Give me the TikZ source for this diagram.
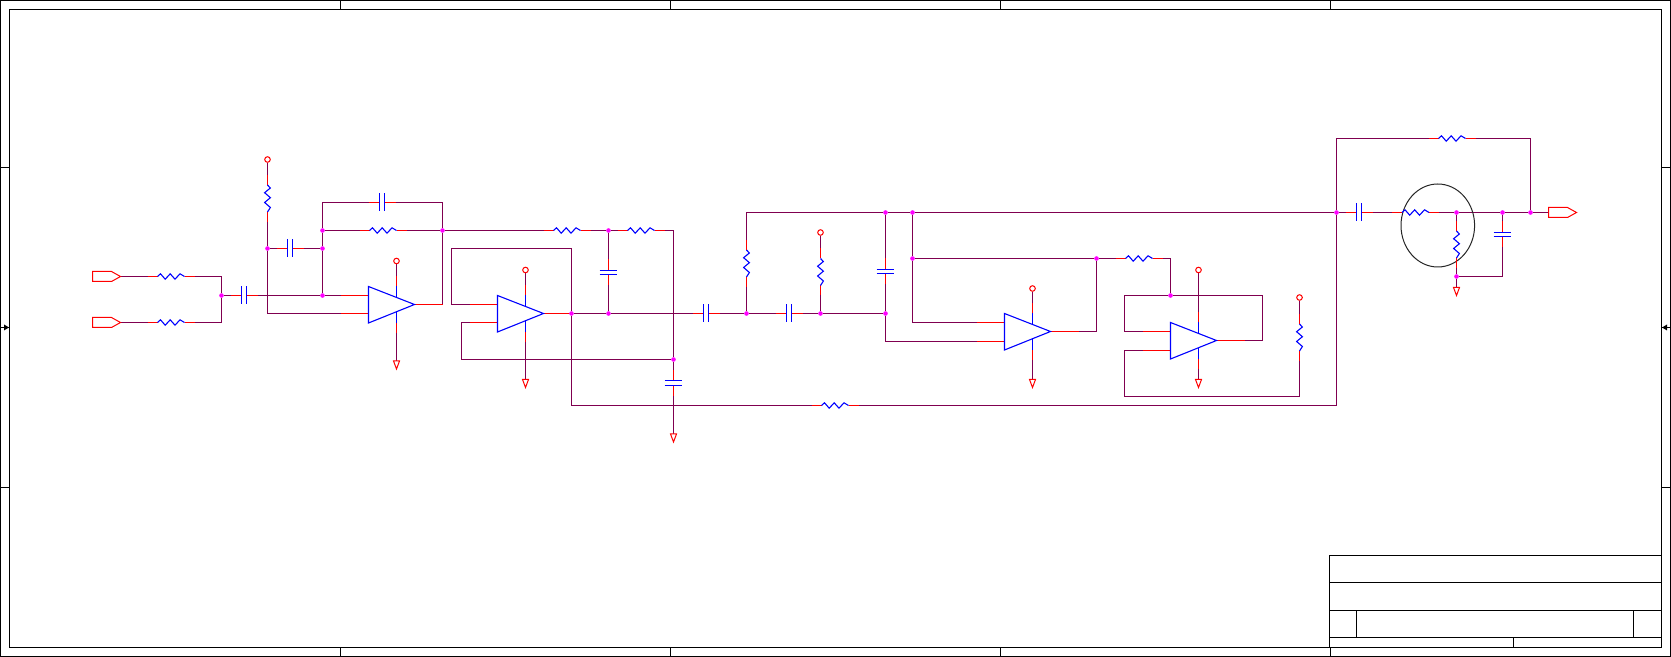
\documentclass[tikz,border=0pt]{standalone}
\usetikzlibrary{backgrounds}
\definecolor{wirec}{RGB}{128,0,80}
\definecolor{stubc}{RGB}{255,0,0}
\definecolor{compc}{RGB}{0,0,255}
\definecolor{juncc}{RGB}{255,0,255}
\tikzset{
  wire/.style={draw=wirec,line width=0.55pt},
  stubline/.style={draw=stubc,line width=0.55pt},
  comp/.style={draw=compc,line width=0.55pt,line join=miter},
  terminal/.style={draw=stubc,line width=0.5pt,fill=white},
  junc/.style={circle,fill=juncc,inner sep=0pt,minimum size=2.3pt},
  frameline/.style={draw=black,line width=0.55pt},
  ringline/.style={draw=black!85,line width=0.5pt},
}
% horizontal resistor: body from (x,y) to (x+27,y)
\newcommand\resH[3]{\begin{scope}[shift={(#2,#3)}]
  \coordinate (#1-l) at (0,0); \coordinate (#1-r) at (27,0);
  \draw[stubline] (-10,0)--(0,0) (27,0)--(37,0);
  \draw[comp] (0,0)--(3,-2.7)--(7.7,2.7)--(12.7,-2.7)--(17.5,2.7)--(22.5,-2.7)--(27,0);
\end{scope}}
% vertical resistor: body from (x,y) to (x,y+27)
\newcommand\resV[3]{\begin{scope}[shift={(#2,#3)}]
  \coordinate (#1-t) at (0,0); \coordinate (#1-b) at (0,27);
  \draw[stubline] (0,-10)--(0,0) (0,27)--(0,37);
  \draw[comp] (0,0)--(2.9,3)--(-2.9,7.7)--(2.9,12.7)--(-2.9,17.5)--(2.9,22.5)--(0,27);
\end{scope}}
% horizontal capacitor centred on (x,y)
\newcommand\capH[3]{\begin{scope}[shift={(#2,#3)}]
  \coordinate (#1-l) at (-2.5,0); \coordinate (#1-r) at (2.5,0);
  \draw[stubline] (-13.5,0)--(-2.5,0) (2.5,0)--(13.5,0);
  \draw[comp] (-2.5,-9)--(-2.5,9) (2.5,-9)--(2.5,9);
\end{scope}}
% vertical capacitor centred on (x,y), half gap #4
\newcommand\capV[4]{\begin{scope}[shift={(#2,#3)}]
  \coordinate (#1-t) at (0,-#4); \coordinate (#1-b) at (0,#4);
  \draw[stubline] (0,-13)--(0,-#4) (0,#4)--(0,13);
  \draw[comp] (-8.8,-#4)--(8.8,-#4) (-8.8,#4)--(8.8,#4);
\end{scope}}
% op amp: left edge x, top y, input spacing #4
\newcommand\opampU[4]{\begin{scope}[shift={(#2,#3)}]
  \coordinate (#1-a) at (0,9); \coordinate (#1-c) at (0,9+#4);
  \coordinate (#1-o) at (46,18);
  \coordinate (#1-v) at (28,-10); \coordinate (#1-g) at (28,46.5);
  \draw[stubline] (-28,9)--(0,9) (-28,9+#4)--(0,9+#4) (46,18)--(74,18)
     (28,-10)--(28,0) (28,36.5)--(28,46.5);
  \draw[comp] (28,0)--(28,11) (28,25.5)--(28,36.5);
  \draw[comp,fill=white] (0,0)--(46,18)--(0,36.5)--cycle;
\end{scope}}
\newcommand\supply[3]{\node[circle,draw=stubc,line width=0.5pt,fill=white,inner sep=0pt,minimum size=2.8pt] (#1) at (#2,#3) {};}
\newcommand\earth[3]{\begin{scope}[shift={(#2,#3)}]
  \coordinate (#1) at (0,0);
  \draw[terminal] (-3,0)--(3,0)--(0,8)--cycle;
\end{scope}}
\newcommand\portR[3]{\begin{scope}[shift={(#2,#3)}]
  \coordinate (#1-l) at (0,0); \coordinate (#1-r) at (28,0);
  \draw[terminal] (0,-5)--(19,-5)--(28,0)--(19,5)--(0,5)--cycle;
\end{scope}}
\begin{document}
\begin{tikzpicture}[x=0.5pt,y=-0.5pt]
\useasboundingbox (0,0) rectangle (1671,657);
% drawing frame
\draw[frameline] (0.5,0.5) rectangle (1670.5,656.5);
\draw[frameline] (9.5,9.5) rectangle (1661.5,647.5);
\foreach \tx in {340.5,670.5,1000.5,1330.5}{
  \draw[frameline] (\tx,0.5)--(\tx,9.5);
  \draw[frameline] (\tx,647.5)--(\tx,656.5);
}
\foreach \ty in {167.5,487.5}{
  \draw[frameline] (0.5,\ty)--(9.5,\ty);
  \draw[frameline] (1661.5,\ty)--(1670.5,\ty);
}
\draw[frameline] (0.5,327.5)--(9.5,327.5);
\draw[frameline] (1661.5,327.5)--(1670.5,327.5);
\fill[black] (9,327.5)--(4,324.5)--(4,330.5)--cycle;
\fill[black] (1662,327.5)--(1667,324.5)--(1667,330.5)--cycle;
% title block
\draw[frameline] (1329.5,555.5) rectangle (1661.5,647.5);
\draw[frameline] (1329.5,582.5)--(1661.5,582.5);
\draw[frameline] (1329.5,610.5)--(1661.5,610.5);
\draw[frameline] (1329.5,637.5)--(1661.5,637.5);
\draw[frameline] (1356.5,610.5)--(1356.5,637.5);
\draw[frameline] (1633.5,610.5)--(1633.5,637.5);
\draw[frameline] (1513.5,637.5)--(1513.5,647.5);
% ring
\draw[ringline] (1437.8,225.5) ellipse [x radius=36.8,y radius=41.5];

% components
\portR{pa}{92.5}{276.5}
\portR{pb}{92.5}{322.5}
\portR{pq}{1548.5}{212.5}
\resH{r1}{157.5}{276.5}
\resH{r2}{157.5}{322.5}
\resV{r3}{267.5}{185}
\resH{r4}{369.5}{230.5}
\resH{r5}{553.5}{230.5}
\resH{r6}{627.5}{230.5}
\resH{r7}{821.5}{405.5}
\resH{r8}{1438.5}{138.5}
\resV{r9}{746.5}{250}
\resV{r10}{820.5}{258.5}
\resH{r11}{1125.5}{258.5}
\resV{r12}{1299.5}{324}
\resH{r13}{1402}{212.5}
\resV{r14}{1456.5}{231}
\capH{c1}{244}{295.5}
\capH{c2}{290}{248.5}
\capH{c3}{382}{202.5}
\capV{c4}{608.5}{272.5}{2}
\capH{c5}{706}{313.5}
\capV{c6}{673.5}{383}{2.5}
\capH{c7}{789}{313.5}
\capV{c8}{885.5}{271.5}{2}
\capH{c9}{1359}{212.5}
\capV{c10}{1502.5}{234.5}{2}
\opampU{u1}{368.5}{286.5}{18}
\opampU{u2}{497.5}{295.5}{18}
\opampU{u3}{1004.5}{313.5}{19}
\opampU{u4}{1170.5}{322.5}{19}
\supply{v1}{267.5}{159.5}
\supply{v2}{396.5}{261}
\supply{v3}{525.5}{270}
\supply{v4}{820.5}{232.5}
\supply{v5}{1032.5}{288.5}
\supply{v6}{1198.5}{270}
\supply{v7}{1299.5}{297.5}
\earth{e1}{396.5}{361}
\earth{e2}{525.5}{379.5}
\earth{e3}{673.5}{434}
\earth{e4}{1032.5}{379.5}
\earth{e5}{1198.5}{379.5}
\earth{e6}{1456.5}{287.5}

% junctions
\node[junc] (j1) at (221.5,295.5) {};
\node[junc] (j2) at (267.5,248.5) {};
\node[junc] (j3) at (322.5,248.5) {};
\node[junc] (j4) at (322.5,295.5) {};
\node[junc] (j5) at (322.5,230.5) {};
\node[junc] (j6) at (442.5,230.5) {};
\node[junc] (j7) at (608.5,230.5) {};
\node[junc] (j8) at (571.5,313.5) {};
\node[junc] (j9) at (608.5,313.5) {};
\node[junc] (j10) at (673.5,359.5) {};
\node[junc] (j11) at (746.5,313.5) {};
\node[junc] (j12) at (820.5,313.5) {};
\node[junc] (j13) at (885.5,313.5) {};
\node[junc] (j14) at (1336.5,212.5) {};
\node[junc] (j15) at (885.5,212.5) {};
\node[junc] (j16) at (912.5,212.5) {};
\node[junc] (j17) at (912.5,258.5) {};
\node[junc] (j18) at (1096.5,258.5) {};
\node[junc] (j19) at (1530.5,212.5) {};
\node[junc] (j20) at (1170.5,295.5) {};
\node[junc] (j21) at (1456.5,212.5) {};
\node[junc] (j22) at (1502.5,212.5) {};
\node[junc] (j23) at (1456.5,276.5) {};

% corners that are not junctions
\coordinate (k1) at (442.5,202.5);
\coordinate (k2) at (322.5,202.5);
\coordinate (k3) at (451.5,248.5);
\coordinate (k4) at (461.5,359.5);
\coordinate (k5) at (571.5,405.5);
\coordinate (k6) at (1336.5,405.5);
\coordinate (k7) at (1336.5,138.5);
\coordinate (k8) at (1530.5,138.5);
\coordinate (k9) at (1124.5,295.5);
\coordinate (k10) at (1262.5,295.5);
\coordinate (k11) at (1124.5,396.5);
\coordinate (k12) at (673.5,230.5);

\begin{scope}[on background layer]
\draw[wire] (pa-r)--(r1-l) (r1-r)-|(j1);
\draw[wire] (pb-r)--(r2-l) (r2-r)-|(j1);
\draw[wire] (j1)--(c1-l) (c1-r)--(j4)--(u1-a);
\draw[wire] (v1)--(r3-t) (r3-b)--(j2)--(j2|-u1-c)--(u1-c);
\draw[wire] (j2)--(c2-l) (c2-r)--(j3);
\draw[wire] (j4)--(j3)--(j5)--(k2)--(c3-l) (c3-r)--(k1)--(j6)--(j6|-u1-o)--(u1-o);
\draw[wire] (j5)--(r4-l) (r4-r)--(j6);
\draw[wire] (j6)--(r5-l) (r5-r)--(j7)--(r6-l) (r6-r)--(k12)--(j10)--(c6-t) (c6-b)--(e3);
\draw[wire] (j7)--(c4-t) (c4-b)--(j9);
\draw[wire] (u2-o)--(j8)--(j9)--(c5-l) (c5-r)--(j11)--(c7-l) (c7-r)--(j12)--(j13);
\draw[wire] (u2-a)-|(k3)-|(j8);
\draw[wire] (u2-c)-|(k4)--(j10);
\draw[wire] (j8)--(k5)--(r7-l) (r7-r)--(k6)--(j14)--(k7)--(r8-l) (r8-r)--(k8)--(j19);
\draw[wire] (j11)--(r9-b) (r9-t)|-(j15);
\draw[wire] (j15)--(j16)--(j14);
\draw[wire] (v4)--(r10-t) (r10-b)--(j12);
\draw[wire] (j15)--(c8-t) (c8-b)--(j13)|-(u3-c);
\draw[wire] (j16)--(j17)|-(u3-a);
\draw[wire] (j17)--(j18)--(r11-l) (r11-r)-|(j20);
\draw[wire] (u3-o)-|(j18);
\draw[wire] (u4-o)-|(k10)--(j20)--(k9)|-(u4-a);
\draw[wire] (u4-c)-|(k11)-|(r12-b) (r12-t)--(v7);
\draw[wire] (j14)--(c9-l) (c9-r)--(r13-l) (r13-r)--(j21)--(j22)--(j19)--(pq-l);
\draw[wire] (j21)--(r14-t) (r14-b)--(j23)--(e6);
\draw[wire] (j22)--(c10-t) (c10-b)|-(j23);
\draw[wire] (v2)--(u1-v) (u1-g)--(e1);
\draw[wire] (v3)--(u2-v) (u2-g)--(e2);
\draw[wire] (v5)--(u3-v) (u3-g)--(e4);
\draw[wire] (v6)--(u4-v) (u4-g)--(e5);
\end{scope}
\end{tikzpicture}
\end{document}
